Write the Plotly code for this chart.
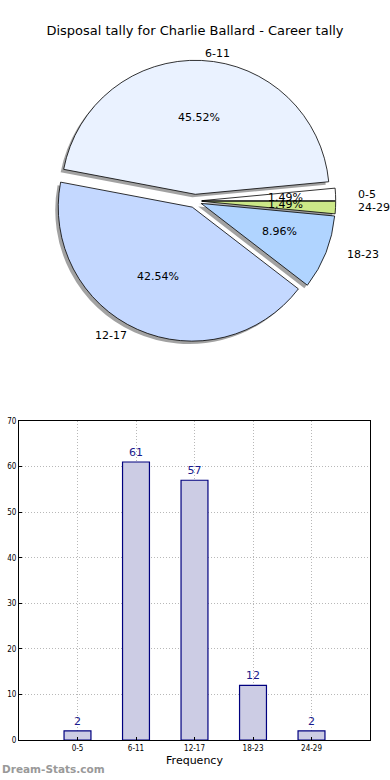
import math
import plotly.graph_objects as go

categories = ["0-5", "6-11", "12-17", "18-23", "24-29"]
counts = [2, 61, 57, 12, 2]
slice_colors = ["#ffffff", "#eaf2ff", "#c4d8ff", "#b0d4ff", "#cce888"]
title_text = "Disposal tally for Charlie Ballard - Career tally"
y_ticks = [0, 10, 20, 30, 40, 50, 60, 70]

W, H = 390, 780
PULL = 0.05
R = 134            # drawn pie radius (px)
RX, RY = 140, 128  # text-placement radii (reference pie is slightly elliptical)
cx, cy = 195, 201
half = R * (1 + PULL)
total = sum(counts)
# first slice starts at 3 o'clock and runs counterclockwise
start_rot = 90 - 360 * counts[0] / total

def pie_dom(dx=0, dy=0):
    return dict(x=[(cx + dx - half) / W, (cx + dx + half) / W],
                y=[(H - (cy + dy) - half) / H, (H - (cy + dy) + half) / H])

common = dict(labels=categories, values=counts, sort=False,
              direction="counterclockwise", rotation=start_rot,
              pull=[PULL] * len(counts), showlegend=False, hoverinfo="skip",
              textinfo="none")

fig = go.Figure()
# shadow
fig.add_trace(go.Pie(**common, domain=pie_dom(-3, 3),
                     marker=dict(colors=["rgba(100,100,100,0.6)"] * 5, line=dict(width=0))))
# main pie
fig.add_trace(go.Pie(**common, domain=pie_dom(),
                     marker=dict(colors=slice_colors, line=dict(color="#000000", width=0.8))))

# percentage and category labels, placed like matplotlib (0.6r inside, 1.1r outside)
annotations = []
acc = 0.0
for lab, v in zip(categories, counts):
    a0 = 360 * acc / total
    acc += v
    a1 = 360 * acc / total
    mid = math.radians((a0 + a1) / 2)
    c, s = math.cos(mid), math.sin(mid)
    ex = cx + PULL * RX * c
    ey = cy - PULL * RY * s
    pct = f"{100 * v / total:.2f}%"
    annotations.append(dict(text=pct, x=(ex + 0.6 * RX * c) / W, y=1 - (ey - 0.6 * RY * s) / H,
                            xref="paper", yref="paper", xanchor="center", yanchor="middle",
                            showarrow=False,
                            font=dict(family="DejaVu Sans", size=11, color="#000000")))
    lx = ex + 1.1 * RX * c
    annotations.append(dict(text=lab, x=lx / W, y=1 - (ey - 1.1 * RY * s) / H,
                            xref="paper", yref="paper",
                            xanchor="left" if lx > cx else "right", yanchor="middle",
                            showarrow=False,
                            font=dict(family="DejaVu Sans", size=11, color="#000000")))

annotations.append(dict(text="<b>Dream-Stats.com</b>", x=0, y=3 / H, xref="paper", yref="paper",
                        xanchor="left", yanchor="bottom", showarrow=False,
                        font=dict(family="DejaVu Sans", size=10.5, color="#999999")))

# bar chart
fig.add_trace(go.Bar(x=categories, y=counts, width=0.46,
                     marker=dict(color="#ccccE4", line=dict(color="#00007f", width=1.2)),
                     text=[str(v) for v in counts], textposition="outside",
                     textfont=dict(family="DejaVu Sans", size=11, color="#1a1a8c"),
                     cliponaxis=False, showlegend=False, hoverinfo="skip"))

axis_common = dict(showline=True, linecolor="#000000", linewidth=1, mirror=True,
                   showgrid=True, gridcolor="#b8b8b8", griddash="1px,2px", gridwidth=1,
                   zeroline=False, ticks="inside", ticklen=3, tickcolor="#000000",
                   automargin=False,
                   tickfont=dict(family="DejaVu Sans Condensed", size=8, color="#000000"))

fig.update_layout(
    width=W, height=H,
    margin=dict(l=0, r=0, t=0, b=0, autoexpand=False),
    paper_bgcolor="#ffffff", plot_bgcolor="#ffffff",
    hovermode=False,
    title=dict(text=title_text, x=0.5, xanchor="center", y=1 - 30 / H, yanchor="middle",
               font=dict(family="DejaVu Sans", size=13, color="#000000")),
    xaxis=dict(domain=[19 / W, 370 / W], range=[-1, 5], tickmode="array",
               tickvals=list(range(len(categories))), ticktext=categories,
               title=dict(text="Frequency", standoff=4,
                          font=dict(family="DejaVu Sans", size=11, color="#000000")),
               anchor="y", **axis_common),
    yaxis=dict(domain=[40 / H, 359 / H], range=[0, 70], tickvals=y_ticks,
               anchor="x", **axis_common),
    annotations=annotations,
)

fig.write_html("out.html", config={"displayModeBar": False, "staticPlot": True},
               post_script="document.body.style.margin='0';document.body.style.overflow='hidden';")
